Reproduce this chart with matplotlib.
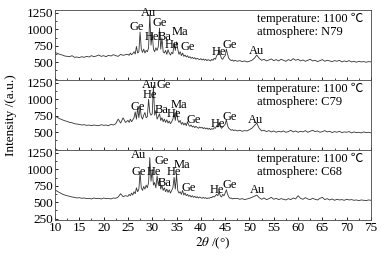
import matplotlib
matplotlib.use("Agg")
import matplotlib.pyplot as plt
import numpy as np
from matplotlib.ticker import MultipleLocator

plt.rcParams['font.family'] = ['Liberation Serif', 'DejaVu Serif']
plt.rcParams['mathtext.fontset'] = 'stix'

# 2theta sampling: coarse outside the peak region, finer inside it
tt = np.concatenate([np.arange(10, 25, 0.5), np.arange(25, 47, 0.25), np.arange(47, 75.5, 0.5)])

# intensity (a.u.)
n79 = [650, 635, 620, 610, 595, 590, 585, 600, 575, 580, 570, 585, 575, 590, 580,
       600, 585, 595, 610, 590, 600, 585, 605, 595, 615, 600, 590, 620, 605, 615,
       # 25 - 46.75
       620, 605, 640, 615, 630, 660, 625, 740, 640, 660, 960, 700, 650, 700, 640, 680,
       660, 720, 1220, 760, 940, 700, 660, 720, 680, 740, 1020, 700, 870, 660, 640, 680,
       620, 690, 640, 610, 650, 630, 790, 680, 810, 700, 620, 660, 600, 640, 590, 610,
       580, 600, 570, 585, 560, 575, 555, 570, 545, 560, 550, 540, 555, 535, 550, 530,
       545, 525, 540, 530, 520, 545, 530, 560, 545, 600, 620, 690, 610, 560, 545, 580,
       600, 700, 620, 560, 540, 525, 535, 515,
       # 47 - 75
       530, 515, 525, 510, 520, 505, 515, 530, 560, 610, 560, 530, 545, 520, 535, 550,
       525, 540, 520, 545, 530, 515, 540, 525, 555, 530, 545, 520, 535, 515, 530, 545,
       520, 530, 510, 525, 540, 515, 530, 520, 510, 525, 515, 530, 505, 520, 510, 525,
       505, 515, 500, 515, 505, 510, 500, 510, 505]

c79 = [745, 725, 705, 690, 675, 665, 650, 645, 630, 625, 620, 610, 615, 605, 610,
       600, 610, 605, 600, 615, 605, 610, 600, 620, 610, 630, 700, 640, 720, 650,
       680, 650, 700, 660, 690, 720, 810, 700, 870, 720, 885, 740, 700, 760, 800, 720,
       740, 1000, 800, 760, 780, 1210, 760, 830, 700, 740, 780, 680, 720, 660, 700, 650,
       690, 640, 670, 630, 660, 700, 790, 680, 830, 690, 650, 680, 620, 650, 610, 640,
       600, 660, 610, 590, 610, 580, 595, 570, 590, 575, 560, 580, 565, 575, 555, 570,
       550, 565, 545, 560, 540, 555, 545, 570, 560, 600, 580, 650, 590, 560, 580, 600,
       620, 690, 600, 560, 545, 530, 540, 525,
       535, 520, 530, 515, 525, 520, 540, 560, 600, 640, 560, 520, 530, 510, 525, 505,
       520, 500, 515, 505, 520, 500, 510, 530, 505, 520, 500, 515, 505, 525, 500, 515,
       530, 510, 520, 500, 510, 525, 505, 515, 495, 510, 500, 515, 495, 505, 500, 510,
       490, 505, 495, 500, 490, 505, 495, 500, 490]

c68 = [690, 665, 645, 625, 610, 600, 590, 580, 575, 565, 570, 560, 565, 555, 560,
       550, 565, 555, 560, 550, 565, 555, 560, 550, 565, 560, 580, 630, 585, 600,
       590, 620, 600, 640, 610, 660, 630, 720, 660, 700, 950, 720, 680, 740, 700, 760,
       720, 800, 1180, 820, 1000, 760, 800, 720, 900, 760, 850, 700, 760, 680, 720, 660,
       700, 650, 690, 640, 680, 720, 880, 700, 920, 680, 640, 660, 620, 680, 610, 640,
       600, 620, 590, 605, 580, 600, 575, 590, 570, 585, 565, 580, 570, 560, 575, 560,
       570, 555, 565, 560, 575, 570, 590, 580, 600, 620, 600, 660, 600, 580, 620, 600,
       640, 690, 620, 580, 560, 565, 550, 560,
       555, 560, 545, 555, 540, 550, 560, 575, 590, 610, 570, 545, 565, 540, 555, 575,
       545, 560, 540, 555, 545, 535, 555, 540, 565, 550, 600, 560, 545, 570, 550, 540,
       560, 545, 535, 560, 575, 540, 555, 535, 550, 530, 545, 535, 540, 530, 545, 535,
       540, 530, 535, 525, 535, 530, 525, 535, 530]

series = [n79, c79, c68]
atmospheres = ['N79', 'C79', 'C68']

# phase labels: (text, 2theta, intensity)
labels_n79 = [('Au', 29.3, 1250), ('Ge', 26.9, 1040), ('He', 29.9, 890), ('Ge', 31.6, 1090),
              ('Ba', 32.6, 890), ('Ma', 35.7, 960), ('He', 34.1, 760), ('Ge', 37.3, 730),
              ('He', 43.7, 660), ('Ge', 46.0, 760), ('Au', 51.4, 670)]
labels_c79 = [('Au', 29.5, 1225), ('Ge', 32.3, 1225), ('He', 29.5, 1060), ('Ge', 27.1, 877),
              ('Ba', 32.0, 831), ('Ma', 35.5, 922), ('He', 34.5, 785), ('Ge', 38.6, 679),
              ('He', 43.5, 633), ('Ge', 46.0, 725), ('Au', 51.2, 679)]
labels_c68 = [('Au', 27.1, 1219), ('Ge', 32.0, 1128), ('Ge', 27.3, 960), ('He', 30.3, 960),
              ('He', 34.4, 960), ('Ba', 32.6, 793), ('Ma', 36.1, 1060), ('Ge', 37.6, 717),
              ('He', 43.3, 687), ('Ge', 46.0, 763), ('Au', 51.6, 687)]
phase_labels = [labels_n79, labels_c79, labels_c68]

fig = plt.figure(figsize=(3.87, 2.56), dpi=100)
gs = fig.add_gridspec(3, 1, left=55/387, right=371/387, top=1-10/256, bottom=1-220/256, hspace=0)

for i in range(3):
    ax = fig.add_subplot(gs[i])
    ax.plot(tt, series[i], color='#333333', lw=0.6)
    ax.set_xlim(10, 75)
    ax.set_ylim(230, 1295)
    ax.xaxis.set_major_locator(MultipleLocator(5))
    ax.xaxis.set_minor_locator(MultipleLocator(2.5))
    ax.yaxis.set_minor_locator(MultipleLocator(125))
    if i == 2:
        ax.set_yticks([250, 500, 750, 1000, 1250])
    else:
        ax.set_yticks([500, 750, 1000, 1250])
        ax.tick_params(axis='x', labelbottom=False)
    ax.tick_params(which='both', direction='in', labelsize=9.5, pad=1.5)
    ax.tick_params(which='major', length=2.5, width=0.6)
    ax.tick_params(which='minor', length=1.5, width=0.5)
    for s in ax.spines.values():
        s.set_linewidth(0.6)
        s.set_color('#444444')
    for t, x, y in phase_labels[i]:
        ax.text(x, y, t, fontsize=9, ha='center', va='center')
    ax.text(0.64, 0.88, 'temperature: 1100 \u2103', transform=ax.transAxes, fontsize=9, va='center',
            family=['Liberation Serif', 'Noto Sans CJK SC', 'DejaVu Sans'])
    ax.text(0.64, 0.68, 'atmosphere: ' + atmospheres[i], transform=ax.transAxes, fontsize=9, va='center')
    if i == 2:
        ax.set_xlabel(r'$2\theta$ /(°)', fontsize=9.5, labelpad=1)

fig.text(11/387, 1-115/256, 'Intensity /(a.u.)', rotation=90, fontsize=9.5, ha='center', va='center')

fig.savefig('out.png', dpi=100)
